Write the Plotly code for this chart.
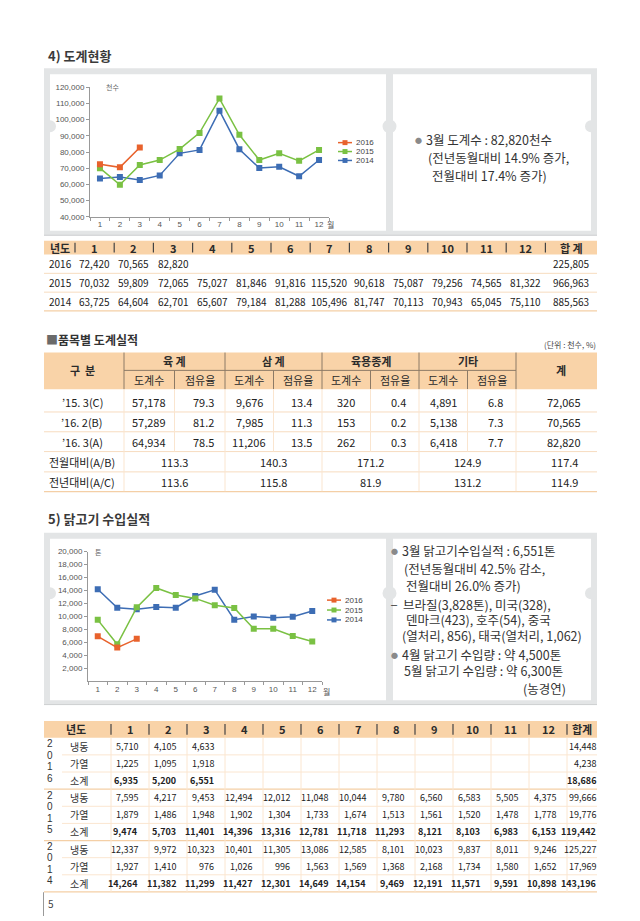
import plotly.graph_objects as go

W, H = 640, 921
FONT = "Noto Sans CJK KR"
CFONT = "Liberation Sans"
PEACH = "#f9d3a8"
ORANGE = "#e8622c"
GREEN = "#7ac143"
BLUE = "#3d6db4"

# ---------------- data ----------------
months = [str(i) for i in range(1, 13)]

# 도계현황 (table, 천수)
t1_years = ["2016", "2015", "2014"]
t1_2016 = [72420, 70565, 82820]
t1_2015 = [70032, 59809, 72065, 75027, 81846, 91816, 115520, 90618, 75087, 79256, 74565, 81322]
t1_2014 = [63725, 64604, 62701, 65607, 79184, 81288, 105496, 81747, 70113, 70943, 65045, 75110]
t1_totals = [225805, 966963, 885563]

# 도계현황 chart values (as plotted)
c1_2016 = [72420, 70565, 82820]
c1_2015 = [70032, 59809, 72065, 75027, 81846, 91816, 113000, 90618, 75087, 79256, 74565, 81322]
c1_2014 = [63725, 64604, 62701, 65607, 79184, 81288, 105496, 81747, 70113, 70943, 65045, 75110]

# 품목별 도계실적
t2_labels = ["’15. 3(C)", "’16. 2(B)", "’16. 3(A)", "전월대비(A/B)", "전년대비(A/C)"]
t2_groups = ["육 계", "삼 계", "육용종계", "기타"]
broiler_cnt = [57178, 57289, 64934]
broiler_share = [79.3, 81.2, 78.5]
samgye_cnt = [9676, 7985, 11206]
samgye_share = [13.4, 11.3, 13.5]
breeder_cnt = [320, 153, 262]
breeder_share = [0.4, 0.2, 0.3]
other_cnt = [4891, 5138, 6418]
other_share = [6.8, 7.3, 7.7]
t2_total = [72065, 70565, 82820]
t2_mom = [113.3, 140.3, 171.2, 124.9, 117.4]
t2_yoy = [113.6, 115.8, 81.9, 131.2, 114.9]

# 닭고기 수입실적 (톤)
frozen_2016 = [5710, 4105, 4633]
heated_2016 = [1225, 1095, 1918]
sub_2016 = [6935, 5200, 6551]
tot_2016 = [14448, 4238, 18686]
frozen_2015 = [7595, 4217, 9453, 12494, 12012, 11048, 10044, 9780, 6560, 6583, 5505, 4375]
heated_2015 = [1879, 1486, 1948, 1902, 1304, 1733, 1674, 1513, 1561, 1520, 1478, 1778]
sub_2015 = [9474, 5703, 11401, 14396, 13316, 12781, 11718, 11293, 8121, 8103, 6983, 6153]
tot_2015 = [99666, 19776, 119442]
frozen_2014 = [12337, 9972, 10323, 10401, 11305, 13086, 12585, 8101, 10023, 9837, 8011, 9246]
heated_2014 = [1927, 1410, 976, 1026, 996, 1563, 1569, 1368, 2168, 1734, 1580, 1652]
sub_2014 = [14264, 11382, 11299, 11427, 12301, 14649, 14154, 9469, 12191, 11571, 9591, 10898]
tot_2014 = [125227, 17969, 143196]

# 닭고기 chart values (as plotted)
c2_2016 = [6935, 5200, 6551]
c2_2015 = [9474, 5703, 11401, 14396, 13316, 12781, 11718, 11293, 8121, 8103, 6983, 6153]
c2_2014 = [14200, 11350, 11100, 11450, 11350, 13150, 14100, 9500, 10000, 9800, 9950, 10850]

# ---------------- helpers ----------------
shapes, annots = [], []


def X(x):
    return x / W


def Y(y):
    return 1 - y / H


def rect(x0, y0, x1, y1, fill, layer="below"):
    shapes.append(dict(type="rect", xref="paper", yref="paper", x0=X(x0), x1=X(x1),
                       y0=Y(y1), y1=Y(y0), fillcolor=fill, line=dict(width=0), layer=layer))


def circle(cx, cy, r, fill, layer="below"):
    shapes.append(dict(type="circle", xref="paper", yref="paper", x0=X(cx - r), x1=X(cx + r),
                       y0=Y(cy + r), y1=Y(cy - r), fillcolor=fill, line=dict(width=0), layer=layer))


def hline(x0, x1, y, color, w=1, layer="below"):
    shapes.append(dict(type="line", xref="paper", yref="paper", x0=X(x0), x1=X(x1),
                       y0=Y(y), y1=Y(y), line=dict(color=color, width=w), layer=layer))


def vline(x, y0, y1, color, w=1, layer="below"):
    shapes.append(dict(type="line", xref="paper", yref="paper", x0=X(x), x1=X(x),
                       y0=Y(y0), y1=Y(y1), line=dict(color=color, width=w), layer=layer))


def text(x, y, s, size=10, color="#222", anchor="center", family=FONT):
    annots.append(dict(xref="paper", yref="paper", x=X(x), y=Y(y), text=s, showarrow=False,
                       xanchor=anchor, yanchor="middle", borderpad=0,
                       font=dict(size=size, color=color, family=family)))


def fmt(v):
    return f"{v:,}"


def frame(top, bottom):
    rect(44, top, 597, bottom, "#e3e5e6")
    hline(44, 597, bottom - 0.5, "#cfd1d2", 1)
    rect(50, top + 6, 386, bottom - 5, "#ffffff")
    rect(393, top + 6, 591, bottom - 5, "#ffffff")
    cy = (top + bottom) / 2 - 26
    circle(50, cy, 6, "#e3e5e6")
    circle(389.5, cy, 7, "#e3e5e6")
    circle(591, cy, 6, "#e3e5e6")


def legend(x, ys):
    for (lab, col), yy in zip([("2016", ORANGE), ("2015", GREEN), ("2014", BLUE)], ys):
        hline(x, x + 14, yy, col, 1.5, layer="above")
        rect(x + 4.5, yy - 2.5, x + 9.5, yy + 2.5, col, layer="above")
        text(x + 17, yy, lab, size=8, color="#444", anchor="left", family=CFONT)


# ---------------- section 4 ----------------
text(47, 52, "<b>4) 도계현황</b>", size=13, color="#3a3a3a", anchor="left")
frame(65, 234)
legend(338, [140, 149, 158])
text(105, 84, "천수", size=7, color="#666", anchor="left")
text(326, 223, "월", size=8, color="#555", anchor="left")

text(418, 137, "●", size=7, color="#8a8a8a")
text(425, 137, "3월 도계수 : 82,820천수", size=12.5, color="#333", anchor="left")
text(427, 155, "(전년동월대비 14.9% 증가,", size=12.5, color="#333", anchor="left")
text(431, 173, "전월대비 17.4% 증가)", size=12.5, color="#333", anchor="left")

# table 1
t1_x0, t1_w = 75, 39.2
t1_end = t1_x0 + 12 * t1_w
rect(44, 239, 597, 253, PEACH)
for i in range(13):
    vline(t1_x0 + i * t1_w, 241, 251, "#444", 1.2)
text(60, 246, "<b>년도</b>", size=11, color="#2b2b2b")
for i, m in enumerate(months):
    text(t1_x0 + (i + 0.5) * t1_w, 246, "<b>" + m + "</b>", size=11, color="#2b2b2b")
text((t1_end + 597) / 2, 246, "<b>합 계</b>", size=11, color="#2b2b2b")
rows1 = [t1_2016, t1_2015, t1_2014]
ry1 = [262.5, 281.5, 300.5]
for yy in [272, 291]:
    hline(44, 597, yy, "#f7dcbf", 1)
hline(44, 597, 310, "#f4cfa6", 1.2)
for yr, vals, tot, yy in zip(t1_years, rows1, t1_totals, ry1):
    text(60, yy, yr, size=10)
    for i, v in enumerate(vals):
        text(t1_x0 + (i + 0.5) * t1_w, yy, fmt(v), size=10)
    text((t1_end + 597) / 2, yy, fmt(tot), size=10)

# table 2
text(45, 339, "<b><span style='color:#6a6a6a'>■</span>품목별 도계실적</b>", size=12, color="#333", anchor="left")
text(597, 344, "(단위 : 천수, %)", size=8, color="#444", anchor="right")
g_edges = [124, 225, 322, 419, 516]
t2_totx = 561
rect(44, 352, 597, 389, PEACH)
for gx in g_edges:
    vline(gx, 352, 389, "#8c7a66", 1)
hline(124, 516, 370, "#8c7a66", 1)
for a, b in zip(g_edges[:-1], g_edges[1:]):
    vline((a + b) / 2, 370, 389, "#8c7a66", 1)
text(82, 370, "<b>구  분</b>", size=11, color="#2b2b2b")
text(t2_totx, 370, "<b>계</b>", size=11, color="#2b2b2b")
for gi, g in enumerate(t2_groups):
    a, b = g_edges[gi], g_edges[gi + 1]
    text((a + b) / 2, 361, "<b>" + g + "</b>", size=11, color="#2b2b2b")
    text(a + (b - a) * 0.25, 379.5, "도계수", size=11, color="#2b2b2b")
    text(a + (b - a) * 0.75, 379.5, "점유율", size=11, color="#2b2b2b")
ry2 = [402, 422, 442, 462.5, 482.5]
for yy in [412, 432, 452, 472.5]:
    hline(44, 597, yy, "#f7dcbf", 1)
hline(44, 597, 492.5, "#f4cfa6", 1.2)
for gx in g_edges:
    vline(gx, 389, 492, "#fae5cf", 1)
for a, b in zip(g_edges[:-1], g_edges[1:]):
    vline((a + b) / 2, 389, 452, "#fae5cf", 1)
cnts = [broiler_cnt, samgye_cnt, breeder_cnt, other_cnt]
shares = [broiler_share, samgye_share, breeder_share, other_share]
for r in range(5):
    text(82, ry2[r], t2_labels[r], size=11)
for r in range(3):
    for gi in range(4):
        a, b = g_edges[gi], g_edges[gi + 1]
        text(a + (b - a) * 0.25, ry2[r], fmt(cnts[gi][r]), size=11)
        text(a + (b - a) * 0.75 + 4, ry2[r], f"{shares[gi][r]:.1f}", size=11)
    text(t2_totx + 3, ry2[r], fmt(t2_total[r]), size=11)
for r, arr in [(3, t2_mom), (4, t2_yoy)]:
    for gi in range(4):
        a, b = g_edges[gi], g_edges[gi + 1]
        text((a + b) / 2, ry2[r], f"{arr[gi]:.1f}", size=11)
    text(t2_totx + 3, ry2[r], f"{arr[4]:.1f}", size=11)

# ---------------- section 5 ----------------
text(47, 520, "<b>5) 닭고기 수입실적</b>", size=13, color="#3a3a3a", anchor="left")
frame(534, 708)
legend(327, [602, 612, 622])
text(94, 553, "톤", size=7, color="#666", anchor="left")
text(322, 694, "월", size=8, color="#555", anchor="left")

box2 = [
    (394, 552, "●", None),
    (401, 552, "3월 닭고기수입실적 : 6,551톤", "left"),
    (403, 570, "(전년동월대비 42.5% 감소,", "left"),
    (405, 587, "전월대비 26.0% 증가)", "left"),
    (394, 606, "–", None),
    (402, 606, "브라질(3,828톤), 미국(328),", "left"),
    (405, 622, "덴마크(423), 호주(54), 중국", "left"),
    (401, 638, "(열처리, 856), 태국(열처리, 1,062)", "left"),
    (394, 657, "●", None),
    (401, 657, "4월 닭고기 수입량 : 약 4,500톤", "left"),
    (403, 673, "5월 닭고기 수입량 : 약 6,300톤", "left"),
    (567, 691, "(농경연)", "right"),
]
for x, y, s, anc in box2:
    if anc is None:
        if s == "●":
            text(x, y, s, size=7, color="#8a8a8a")
        else:
            text(x, y, s, size=11, color="#333", family=CFONT)
    else:
        text(x, y, s, size=12.5, color="#333", anchor=anc)

# table 3
t3_x0, t3_w = 111, 38
t3_end = t3_x0 + 12 * t3_w
rect(44, 724, 597, 741, PEACH)
for i in range(13):
    vline(t3_x0 + i * t3_w, 727, 738, "#444", 1.2)
text(76, 732.5, "<b>년도</b>", size=11, color="#2b2b2b")
for i, m in enumerate(months):
    text(t3_x0 + (i + 0.5) * t3_w, 732.5, "<b>" + m + "</b>", size=11, color="#2b2b2b")
text((t3_end + 597) / 2, 732.5, "<b>합계</b>", size=11, color="#2b2b2b")

groups3 = [
    ("2016", [frozen_2016, heated_2016, sub_2016], tot_2016),
    ("2015", [frozen_2015, heated_2015, sub_2015], tot_2015),
    ("2014", [frozen_2014, heated_2014, sub_2014], tot_2014),
]
types3 = ["냉동", "가열", "소계"]
rh = 17.3
top = 741
for gi, (yr, rows, tots) in enumerate(groups3):
    gtop = top + gi * 3 * rh
    for k in range(1, 3):
        hline(62, 597, gtop + k * rh, "#fbe6d0", 1)
    hline(44, 597, gtop + 3 * rh, "#f4cfa6", 1.2)
    for d, ch in enumerate(yr):
        text(50, gtop + 6 + d * 11.6, ch, size=10, color="#333", family=CFONT)
    for k, (tp, vals, tot) in enumerate(zip(types3, rows, tots)):
        yy = gtop + (k + 0.5) * rh
        b0, b1 = ("<b>", "</b>") if k == 2 else ("", "")
        text(79, yy, tp, size=10, color="#333")
        for i, v in enumerate(vals):
            text(t3_x0 + (i + 1) * t3_w - 10, yy, b0 + fmt(v) + b1, size=9, anchor="right")
        text(596.5, yy, b0 + fmt(tot) + b1, size=9, anchor="right")
for i in range(13):
    vline(t3_x0 + i * t3_w, 741, top + 9 * rh, "#fbe6d0", 1)

# page number
vline(43.5, 897, 921, "#999", 1)
text(47, 908, "5", size=10, color="#444", anchor="left")

# ---------------- figure ----------------
fig = go.Figure()
for name, vals, col, n in [("2014", c1_2014, BLUE, 12), ("2015", c1_2015, GREEN, 12), ("2016", c1_2016, ORANGE, 3)]:
    fig.add_trace(go.Scatter(x=months[:n], y=vals, name=name, mode="lines+markers",
                             line=dict(color=col, width=1.5), marker=dict(symbol="square", size=6, color=col),
                             xaxis="x", yaxis="y", showlegend=False, hoverinfo="skip"))
for name, vals, col, n in [("2014", c2_2014, BLUE, 12), ("2015", c2_2015, GREEN, 12), ("2016", c2_2016, ORANGE, 3)]:
    fig.add_trace(go.Scatter(x=months[:n], y=vals, name=name, mode="lines+markers",
                             line=dict(color=col, width=1.5), marker=dict(symbol="square", size=6, color=col),
                             xaxis="x2", yaxis="y2", showlegend=False, hoverinfo="skip"))

axcommon = dict(showgrid=False, zeroline=False, showline=True, linecolor="#999", linewidth=1,
                ticks="outside", ticklen=3, tickcolor="#999", tickwidth=1,
                tickfont=dict(size=8, color="#555", family=CFONT), fixedrange=True)
xcat = dict(type="category", categoryorder="array", categoryarray=months, range=[-0.5, 11.5],
            tickson="boundaries", **axcommon)

fig.update_layout(
    width=W, height=H, autosize=False,
    margin=dict(l=0, r=0, t=0, b=0, pad=0),
    paper_bgcolor="#ffffff", plot_bgcolor="rgba(0,0,0,0)",
    showlegend=False,
    xaxis=dict(domain=[X(90), X(329)], anchor="y", **xcat),
    yaxis=dict(domain=[Y(215), Y(84)], anchor="x", range=[40000, 120000],
               tickvals=list(range(40000, 120001, 10000)), tickformat=",", **axcommon),
    xaxis2=dict(domain=[X(88), X(322)], anchor="y2", **xcat),
    yaxis2=dict(domain=[Y(684), Y(553)], anchor="x2", range=[0, 20000],
                tickvals=list(range(2000, 20001, 2000)), tickformat=",", **axcommon),
    shapes=shapes, annotations=annots,
)

fig.write_html("out.html", config={"displayModeBar": False},
               post_script="document.body.style.margin='0';")
